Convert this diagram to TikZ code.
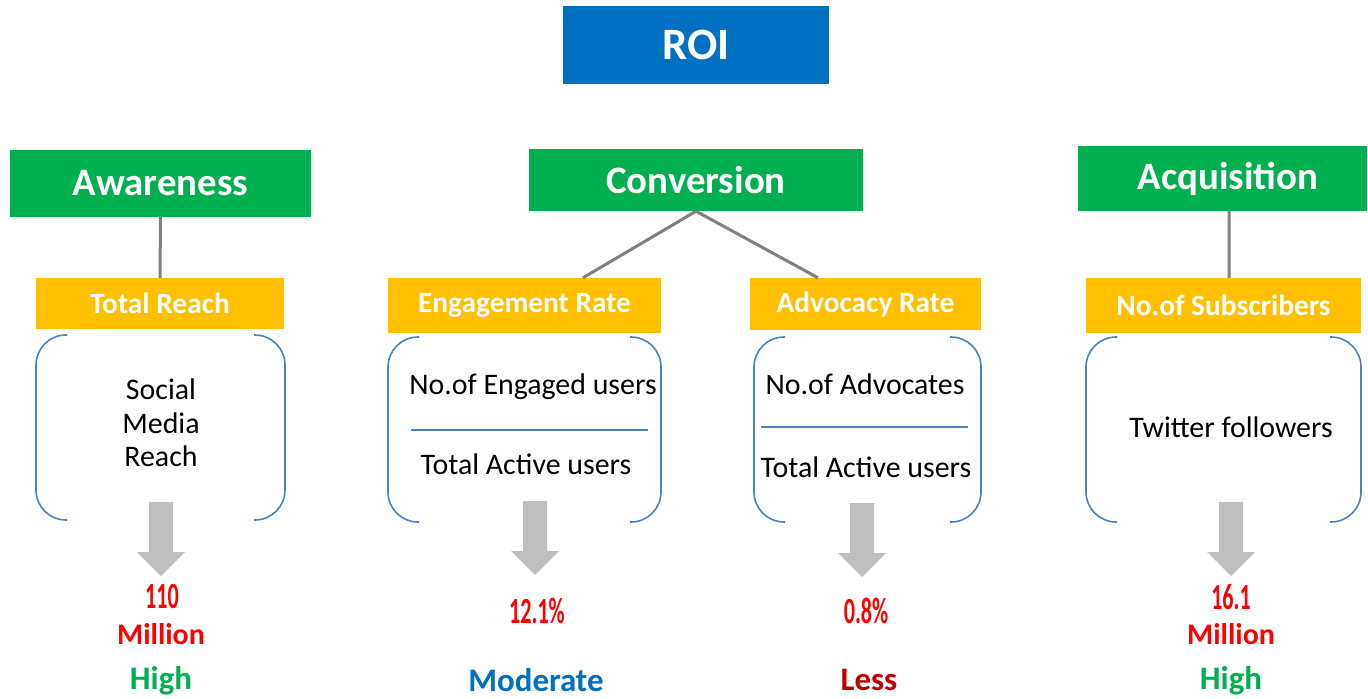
\documentclass[tikz,border=0pt]{standalone}
\usepackage{fontspec}
\setmainfont{Carlito}
\usetikzlibrary{calc}
\definecolor{roiblue}{HTML}{0070C0}
\definecolor{grn}{HTML}{00B050}
\definecolor{yel}{HTML}{FFC000}
\definecolor{linegray}{HTML}{808080}
\definecolor{arrgray}{HTML}{BFBFBF}
\definecolor{brkblue}{HTML}{4F81BD}
\definecolor{dred}{HTML}{C00000}
\newcommand\fs[1]{\fontsize{#1}{#1}\selectfont}
\newcommand\digi[1]{\scalebox{0.6}[1]{\fs{37}\bfseries #1}}
\tikzset{
  box/.style={inner sep=0pt, text=white, font=\bfseries},
  topbox/.style={box, fill=roiblue, font=\fs{45}\bfseries},
  catbox/.style={box, fill=grn, font=\fs{39}\bfseries},
  metbox/.style={box, fill=yel, font=\fs{29.5}\bfseries},
  conn/.style={draw=linegray, line width=3bp},
  brk/.style={draw=brkblue, line width=1.6bp, rounded corners=30bp},
  divl/.style={draw=brkblue, line width=1.4bp},
  body/.style={inner sep=0pt, font=\fs{30}, align=center},
  num/.style={inner sep=0pt, text=red},
  mil/.style={inner sep=0pt, text=red, font=\fs{30}\bfseries},
  rating/.style={inner sep=0pt, font=\fs{33}\bfseries},
  downarrow/.pic={\fill[arrgray] (-12,0) -- (12,0) -- (12,50) -- (24,50) -- (0,74) -- (-24,50) -- (-12,50) -- cycle;}
}
\begin{document}
\begin{tikzpicture}[x=1bp,y=-1bp]
\useasboundingbox (0,0) rectangle (1368,698);
% top boxes
\node[topbox, minimum width=266bp, minimum height=78bp] (roi) at (696,45) {ROI};
\node[catbox, minimum width=301bp, minimum height=67bp] (aw) at (160.5,183.5) {Awareness};
\node[catbox, minimum width=334bp, minimum height=62bp] (conv) at (696,180) {Conversion};
\node[catbox, minimum width=289bp, minimum height=65bp] (acq) at (1222.5,178.5) {\hspace*{11bp}Acquisition};
% metric boxes
\node[metbox, minimum width=248bp, minimum height=51bp] (tr) at (160,303.5) {Total Reach};
\node[metbox, minimum width=273bp, minimum height=55bp] (er) at (524.5,305.5) {Engagement Rate};
\node[metbox, minimum width=231bp, minimum height=52bp] (ar) at (865.5,304) {Advocacy Rate};
\node[metbox, minimum width=275bp, minimum height=55bp] (ns) at (1223.5,305.5) {No.of Subscribers};
% connectors
\draw[conn] (aw.south) -- (tr.north);
\draw[conn] (conv.south) -- ([xshift=58.5bp]er.north);
\draw[conn] (conv.south) -- ([xshift=-47.5bp]ar.north);
\draw[conn] ([xshift=6.5bp]acq.south) -- ([xshift=5.5bp]ns.north);
% brackets
\draw[brk] (67,335) -- (36,335) -- (36,520) -- (67,520);
\draw[brk] (254,335) -- (285,335) -- (285,520) -- (254,520);
\draw[brk] (419,337) -- (388,337) -- (388,522) -- (419,522);
\draw[brk] (630,337) -- (661,337) -- (661,522) -- (630,522);
\draw[brk] (785,337) -- (754,337) -- (754,522) -- (785,522);
\draw[brk] (950,337) -- (981,337) -- (981,522) -- (950,522);
\draw[brk] (1117,337) -- (1086,337) -- (1086,522) -- (1117,522);
\draw[brk] (1330,337) -- (1361,337) -- (1361,522) -- (1330,522);
% divider lines
\draw[divl] (411,430) -- (648,430);
\draw[divl] (761,427) -- (968,427);
% body texts
\node[body] (smr) at (161,423) {Social\\[3.5bp]Media\\[3.5bp]Reach};
\node[body] (neu) at (533,387) {No.of Engaged users};
\node[body] (tau1) at (526,464) {Total Active users};
\node[body] (noa) at (865,384) {No.of Advocates};
\node[body] (tau2) at (866,467) {Total Active users};
\node[body] (tf) at (1231,427) {Twitter followers};
% arrows
\pic at (161,502) {downarrow};
\pic at (535,501) {downarrow};
\pic at (862,503) {downarrow};
\pic at (1231,502) {downarrow};
% values
\node[num] (v1) at (162,597) {\digi{110}};
\node[mil] (m1) at (161,634) {Million};
\node[rating, text=grn] (r1) at (161,681) {High};
\node[num] (v2) at (537,611) {\digi{12.1\%}};
\node[rating, text=roiblue] (r2) at (536,680) {Moderate};
\node[num] (v3) at (866,611) {\digi{0.8\%}};
\node[rating, text=dred] (r3) at (869,680) {Less};
\node[num] (v4) at (1231,597) {\digi{16.1}};
\node[mil] (m4) at (1231,634) {Million};
\node[rating, text=grn] (r4) at (1231,681) {High};
\end{tikzpicture}
\end{document}
